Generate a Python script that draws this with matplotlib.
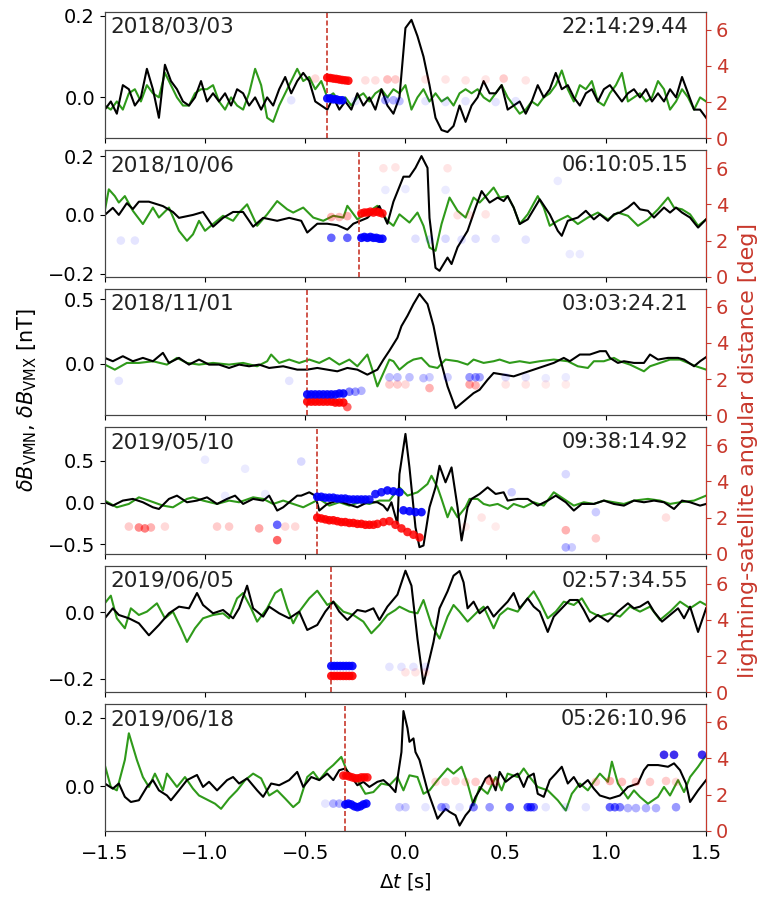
import matplotlib
matplotlib.use('Agg')
import matplotlib.pyplot as plt
import numpy as np
from matplotlib.colors import to_rgba

# ---- event labels ----
dates = ['2018/03/03', '2018/10/06', '2018/11/01', '2019/05/10', '2019/06/05', '2019/06/18']
times = ['22:14:29.44', '06:10:05.15', '03:03:24.21', '09:38:14.92', '02:57:34.55', '05:26:10.96']
t_flash = [-0.39, -0.23, -0.49, -0.44, -0.37, -0.30]
ylims = [(-0.10, 0.21), (-0.21, 0.22), (-0.40, 0.58), (-0.61, 0.90), (-0.24, 0.14), (-0.13, 0.24)]
yticks = [[0.0, 0.2], [-0.2, 0.0, 0.2], [0.0, 0.5], [-0.5, 0.0, 0.5], [-0.2, 0.0], [0.0, 0.2]]

# ---- panel 1 (sampled every 0.03 s) ----
t_1 = np.round(np.arange(-1.5, 1.5001, 0.03), 2)
b1 = [-0.03, -0.01, -0.04, 0.03, 0.02, -0.02, 0.00, 0.07, 0.02, -0.05, 0.08, 0.04, 0.02, -0.01, -0.02,
      0.00, 0.04, -0.01, 0.01, -0.01, 0.01, -0.02, 0.02, 0.01, -0.02, 0.00, -0.03, 0.00, -0.02, 0.02,
      0.05, 0.01, 0.04, 0.06, 0.04, -0.01, -0.02, -0.03, 0.00, -0.03, -0.01, -0.03, 0.01, -0.02, 0.00,
      -0.03, 0.02, -0.02, -0.04, 0.00, 0.17, 0.19, 0.15, 0.10, 0.03, -0.05, -0.08, -0.085, -0.07, -0.02,
      -0.06, -0.02, 0.00, 0.04, 0.01, 0.01, 0.03, -0.03, -0.02, -0.01, -0.04, -0.01, 0.03, 0.00, 0.02,
      0.06, 0.02, 0.03, 0.00, -0.02, 0.01, 0.02, -0.01, 0.02, 0.03, 0.01, -0.01, 0.01, 0.02, 0.00,
      0.02, -0.01, 0.01, -0.01, 0.02, 0.00, 0.05, 0.01, -0.03, -0.03, -0.05]
g1 = [-0.02, -0.03, -0.01, -0.03, 0.01, 0.02, -0.01, 0.03, 0.01, 0.00, 0.06, 0.03, 0.00, -0.02, -0.02,
      0.01, 0.02, 0.02, 0.03, -0.01, -0.03, 0.00, -0.02, -0.03, 0.01, 0.07, 0.03, -0.05, -0.06, -0.02,
      0.01, 0.04, 0.07, 0.04, 0.05, 0.02, 0.04, 0.00, 0.01, -0.01, 0.00, -0.02, 0.00, 0.01, -0.01,
      0.01, 0.02, 0.00, 0.02, 0.01, 0.03, -0.03, 0.00, 0.02, -0.01, 0.01, -0.01, 0.00, -0.02, 0.01,
      0.02, 0.01, 0.02, 0.00, -0.01, 0.01, 0.03, 0.00, -0.02, -0.04, -0.03, -0.01, -0.02, 0.00, 0.01,
      0.03, 0.066, 0.02, -0.01, 0.03, 0.02, 0.04, -0.01, -0.02, 0.01, 0.03, 0.06, -0.01, 0.00, 0.01,
      -0.01, 0.00, 0.04, 0.02, -0.03, -0.01, 0.02, 0.00, -0.03, 0.00, -0.01]

# ---- panels 2-6 : (t, dB) pairs ----
b2 = [(-1.50, 0.00), (-1.46, 0.024), (-1.43, 0.00), (-1.39, 0.04), (-1.36, 0.02), (-1.33, 0.045),
      (-1.28, 0.045), (-1.21, 0.03), (-1.16, 0.01), (-1.13, -0.01), (-1.06, 0.00), (-1.01, 0.01),
      (-0.96, -0.04), (-0.91, -0.01), (-0.86, 0.01), (-0.81, 0.01), (-0.76, -0.04), (-0.71, -0.01),
      (-0.64, -0.02), (-0.58, -0.01), (-0.52, -0.02), (-0.49, -0.06), (-0.44, -0.03), (-0.39, -0.03),
      (-0.34, -0.035), (-0.29, -0.05), (-0.26, -0.03), (-0.19, -0.01), (-0.13, 0.03), (-0.09, -0.03),
      (-0.06, 0.045), (-0.01, 0.13), (0.02, 0.13), (0.05, 0.16), (0.08, 0.20), (0.11, 0.16),
      (0.12, -0.01), (0.15, -0.18), (0.17, -0.19), (0.21, -0.145), (0.23, -0.167), (0.26, -0.11),
      (0.31, -0.054), (0.35, 0.025), (0.38, 0.081), (0.42, 0.042), (0.46, 0.059), (0.49, 0.047),
      (0.51, 0.064), (0.54, 0.025), (0.57, -0.031), (0.61, -0.015), (0.67, 0.053), (0.72, 0.002),
      (0.76, -0.054), (0.78, -0.071), (0.81, -0.020), (0.86, -0.009), (0.90, 0.014), (0.94, -0.015),
      (0.97, 0.002), (1.01, -0.020), (1.04, 0.002), (1.07, 0.008), (1.11, 0.025), (1.14, 0.042),
      (1.17, 0.019), (1.21, 0.014), (1.24, -0.009), (1.29, 0.025), (1.32, 0.008), (1.35, 0.025),
      (1.38, 0.008), (1.42, -0.009), (1.46, -0.043), (1.50, -0.015)]
g2 = [(-1.50, 0.014), (-1.48, 0.087), (-1.45, 0.064), (-1.43, 0.042), (-1.40, 0.064), (-1.36, 0.014),
      (-1.31, -0.031), (-1.26, 0.025), (-1.23, -0.009), (-1.18, 0.025), (-1.13, -0.054), (-1.09, -0.088),
      (-1.06, -0.066), (-1.03, -0.02), (-1.00, -0.054), (-0.96, -0.031), (-0.91, -0.003), (-0.86, -0.02),
      (-0.83, 0.008), (-0.79, 0.036), (-0.74, -0.037), (-0.69, 0.002), (-0.64, 0.047), (-0.59, 0.019),
      (-0.56, 0.008), (-0.51, 0.025), (-0.46, -0.009), (-0.41, -0.02), (-0.36, -0.003), (-0.31, -0.009),
      (-0.29, 0.031), (-0.24, -0.015), (-0.19, 0.008), (-0.14, 0.031), (-0.09, -0.02), (-0.06, -0.037),
      (-0.03, 0.002), (0.02, -0.026), (0.06, 0.008), (0.09, -0.037), (0.12, -0.111), (0.15, -0.122),
      (0.18, -0.031), (0.22, 0.059), (0.26, 0.014), (0.30, -0.009), (0.34, 0.059), (0.37, 0.042),
      (0.41, 0.07), (0.44, 0.093), (0.47, 0.059), (0.51, 0.064), (0.54, 0.025), (0.57, -0.031),
      (0.61, 0.002), (0.66, 0.064), (0.69, 0.025), (0.72, -0.037), (0.76, -0.02), (0.81, -0.003),
      (0.86, -0.031), (0.91, -0.009), (0.96, 0.008), (1.01, -0.015), (1.06, 0.008), (1.11, -0.003),
      (1.16, -0.037), (1.21, -0.015), (1.26, 0.019), (1.31, 0.059), (1.34, 0.025), (1.38, 0.019),
      (1.42, 0.002), (1.46, -0.037), (1.50, -0.015)]

b3 = [(-1.50, 0.044), (-1.46, 0.018), (-1.41, 0.057), (-1.36, 0.018), (-1.31, 0.044), (-1.26, 0.018),
      (-1.21, 0.083), (-1.18, 0.005), (-1.13, 0.044), (-1.08, -0.008), (-1.03, 0.031), (-0.98, -0.008),
      (-0.93, -0.008), (-0.88, -0.034), (-0.83, -0.008), (-0.78, -0.021), (-0.73, -0.008), (-0.68, -0.034),
      (-0.61, -0.021), (-0.54, -0.047), (-0.49, -0.047), (-0.44, -0.034), (-0.39, -0.047), (-0.34, -0.06),
      (-0.29, -0.034), (-0.24, -0.047), (-0.19, -0.086), (-0.14, -0.047), (-0.11, 0.03), (-0.08, 0.10),
      (-0.04, 0.20), (-0.02, 0.29), (0.01, 0.37), (0.04, 0.461), (0.07, 0.539), (0.11, 0.461),
      (0.14, 0.292), (0.17, 0.057), (0.21, -0.177), (0.25, -0.346), (0.29, -0.294), (0.34, -0.229),
      (0.37, -0.203), (0.41, -0.125), (0.44, -0.073), (0.49, -0.086), (0.54, -0.099), (0.59, -0.073),
      (0.64, -0.047), (0.69, -0.021), (0.74, 0.005), (0.79, 0.044), (0.82, 0.018), (0.87, 0.07),
      (0.92, 0.07), (0.97, 0.096), (1.00, 0.096), (1.02, 0.044), (1.06, 0.005), (1.09, 0.018),
      (1.14, 0.005), (1.19, 0.005), (1.22, 0.07), (1.26, 0.031), (1.31, 0.044), (1.36, 0.044),
      (1.39, 0.031), (1.44, -0.021), (1.47, 0.018), (1.50, 0.05)]
g3 = [(-1.50, -0.008), (-1.45, -0.047), (-1.39, 0.005), (-1.33, 0.005), (-1.26, 0.018), (-1.19, -0.008),
      (-1.14, 0.044), (-1.09, 0.005), (-1.03, -0.008), (-0.96, 0.005), (-0.88, -0.008), (-0.81, 0.005),
      (-0.74, -0.021), (-0.69, 0.018), (-0.67, 0.07), (-0.63, 0.005), (-0.58, 0.031), (-0.53, 0.005),
      (-0.48, 0.031), (-0.43, 0.005), (-0.38, 0.044), (-0.33, -0.008), (-0.28, 0.031), (-0.24, -0.021),
      (-0.19, 0.07), (-0.16, -0.073), (-0.14, -0.177), (-0.11, -0.073), (-0.08, 0.031), (-0.06, 0.018),
      (-0.03, -0.047), (0.01, 0.005), (0.04, 0.031), (0.08, 0.044), (0.12, -0.021), (0.16, -0.034),
      (0.20, 0.031), (0.26, 0.018), (0.31, -0.008), (0.34, 0.031), (0.39, 0.005), (0.44, 0.018),
      (0.47, 0.031), (0.52, 0.005), (0.57, 0.018), (0.62, 0.005), (0.67, 0.018), (0.74, 0.031),
      (0.81, 0.018), (0.86, -0.021), (0.91, -0.034), (0.94, 0.018), (0.99, 0.018), (1.04, 0.044),
      (1.07, 0.018), (1.12, -0.008), (1.19, -0.06), (1.22, -0.021), (1.27, 0.005), (1.32, 0.031),
      (1.37, 0.031), (1.41, 0.005), (1.45, -0.021), (1.50, -0.047)]

b4 = [(-1.50, 0.004), (-1.46, -0.036), (-1.41, 0.024), (-1.36, 0.044), (-1.31, 0.004), (-1.26, -0.056),
      (-1.23, -0.076), (-1.18, 0.044), (-1.14, 0.083), (-1.09, 0.004), (-1.04, 0.024), (-0.99, 0.063),
      (-0.94, -0.016), (-0.89, 0.044), (-0.85, 0.083), (-0.81, -0.016), (-0.76, 0.044), (-0.71, 0.024),
      (-0.68, 0.083), (-0.64, -0.095), (-0.61, -0.056), (-0.58, 0.004), (-0.54, 0.083), (-0.52, 0.083),
      (-0.48, 0.123), (-0.45, 0.083), (-0.43, -0.095), (-0.39, -0.016), (-0.34, 0.024), (-0.29, -0.016),
      (-0.24, -0.056), (-0.19, 0.004), (-0.14, 0.004), (-0.11, -0.036), (-0.09, -0.095), (-0.07, 0.004),
      (-0.04, -0.254), (-0.03, 0.34), (0.00, 0.82), (0.02, 0.42), (0.05, -0.294), (0.07, -0.532),
      (0.09, -0.512), (0.12, -0.056), (0.15, 0.182), (0.17, 0.44), (0.20, 0.242), (0.23, 0.42),
      (0.26, -0.056), (0.28, -0.452), (0.31, -0.056), (0.33, 0.044), (0.37, 0.103), (0.41, 0.182),
      (0.45, 0.103), (0.49, 0.123), (0.51, 0.024), (0.56, 0.044), (0.61, 0.044), (0.66, -0.036),
      (0.71, 0.024), (0.75, 0.083), (0.80, 0.004), (0.84, -0.095), (0.88, -0.016), (0.94, -0.016),
      (0.99, 0.024), (1.04, -0.016), (1.09, -0.036), (1.14, 0.024), (1.19, 0.004), (1.24, 0.024),
      (1.29, 0.004), (1.34, -0.076), (1.38, 0.024), (1.42, 0.004), (1.47, -0.036), (1.50, -0.016)]
g4 = [(-1.50, 0.024), (-1.44, -0.056), (-1.38, -0.016), (-1.33, 0.063), (-1.28, 0.024), (-1.21, -0.036),
      (-1.16, -0.056), (-1.09, 0.044), (-1.06, 0.063), (-1.01, 0.024), (-0.94, -0.016), (-0.88, 0.024),
      (-0.83, 0.004), (-0.76, 0.063), (-0.71, 0.044), (-0.66, -0.016), (-0.61, 0.024), (-0.56, -0.016),
      (-0.51, -0.056), (-0.46, 0.004), (-0.43, 0.044), (-0.38, -0.036), (-0.33, 0.004), (-0.28, -0.036),
      (-0.23, 0.004), (-0.18, -0.016), (-0.13, 0.024), (-0.08, 0.024), (-0.03, 0.182), (0.01, 0.083),
      (0.06, 0.123), (0.11, 0.222), (0.13, 0.32), (0.16, 0.182), (0.18, 0.044), (0.21, -0.175),
      (0.23, -0.056), (0.26, -0.175), (0.30, -0.056), (0.32, 0.044), (0.36, 0.044), (0.39, -0.016),
      (0.42, -0.036), (0.46, -0.016), (0.51, -0.076), (0.54, -0.016), (0.59, -0.056), (0.64, 0.004),
      (0.69, -0.036), (0.74, 0.123), (0.79, 0.044), (0.84, -0.036), (0.89, 0.004), (0.94, -0.016),
      (0.99, 0.024), (1.04, 0.004), (1.09, -0.016), (1.14, 0.024), (1.21, 0.044), (1.27, 0.024),
      (1.32, -0.016), (1.37, 0.004), (1.44, 0.024), (1.50, 0.083)]

b5 = [(-1.50, -0.018), (-1.46, 0.012), (-1.43, -0.008), (-1.38, -0.018), (-1.33, -0.033), (-1.28, -0.069),
      (-1.23, -0.038), (-1.18, -0.003), (-1.13, 0.017), (-1.08, 0.012), (-1.04, 0.058), (-1.01, 0.022),
      (-0.96, -0.003), (-0.91, 0.007), (-0.86, -0.018), (-0.83, 0.012), (-0.79, 0.08), (-0.76, 0.012),
      (-0.71, -0.013), (-0.68, 0.017), (-0.63, -0.003), (-0.58, -0.018), (-0.53, 0.002), (-0.49, -0.053),
      (-0.44, -0.038), (-0.40, 0.002), (-0.36, 0.032), (-0.33, 0.002), (-0.29, -0.023), (-0.24, 0.007),
      (-0.20, 0.002), (-0.16, 0.012), (-0.13, -0.023), (-0.09, 0.017), (-0.04, 0.053), (0.00, 0.125),
      (0.03, 0.08), (0.06, -0.08), (0.09, -0.215), (0.12, -0.14), (0.14, -0.089), (0.17, 0.012),
      (0.21, 0.063), (0.24, 0.11), (0.27, 0.124), (0.29, 0.09), (0.31, 0.012), (0.34, 0.032),
      (0.37, -0.003), (0.41, 0.017), (0.44, -0.013), (0.47, 0.007), (0.51, 0.032), (0.54, 0.058),
      (0.57, 0.012), (0.61, 0.042), (0.64, 0.017), (0.67, 0.002), (0.71, -0.059), (0.74, -0.013),
      (0.78, 0.012), (0.82, 0.037), (0.86, 0.037), (0.89, 0.007), (0.92, -0.028), (0.96, -0.008),
      (1.01, -0.028), (1.06, 0.002), (1.11, 0.027), (1.14, 0.012), (1.17, 0.017), (1.21, 0.032),
      (1.24, 0.002), (1.28, -0.028), (1.32, -0.008), (1.36, 0.012), (1.39, -0.018), (1.42, 0.017),
      (1.46, -0.059), (1.50, 0.012)]
g5 = [(-1.50, 0.027), (-1.47, 0.05), (-1.44, -0.018), (-1.40, -0.048), (-1.37, 0.012), (-1.33, -0.008),
      (-1.29, 0.002), (-1.24, 0.027), (-1.20, -0.018), (-1.16, 0.002), (-1.12, -0.048), (-1.09, -0.089),
      (-1.05, -0.048), (-1.01, -0.018), (-0.96, -0.008), (-0.91, -0.003), (-0.88, -0.018), (-0.84, 0.042),
      (-0.81, 0.058), (-0.77, 0.012), (-0.74, -0.028), (-0.69, 0.012), (-0.65, 0.058), (-0.62, 0.07),
      (-0.59, 0.012), (-0.56, -0.033), (-0.53, 0.002), (-0.48, 0.042), (-0.44, 0.065), (-0.39, 0.022),
      (-0.36, 0.032), (-0.31, 0.002), (-0.26, -0.008), (-0.21, -0.028), (-0.17, -0.063), (-0.13, -0.038),
      (-0.09, -0.008), (-0.05, 0.007), (-0.03, 0.017), (0.02, 0.002), (0.06, -0.003), (0.09, 0.037),
      (0.13, -0.038), (0.17, -0.079), (0.21, -0.013), (0.24, 0.022), (0.27, 0.002), (0.31, -0.028),
      (0.36, 0.002), (0.39, 0.017), (0.44, -0.048), (0.47, -0.008), (0.51, 0.012), (0.56, 0.002),
      (0.61, 0.042), (0.64, 0.063), (0.67, 0.032), (0.71, -0.018), (0.75, 0.002), (0.79, 0.032),
      (0.84, 0.022), (0.88, 0.042), (0.92, 0.002), (0.97, -0.013), (1.02, -0.003), (1.07, -0.013),
      (1.12, 0.017), (1.17, 0.002), (1.22, 0.017), (1.27, -0.023), (1.32, 0.002), (1.37, 0.032),
      (1.42, 0.012), (1.47, 0.032), (1.50, 0.022)]

b6 = [(-1.50, 0.008), (-1.46, -0.007), (-1.43, 0.008), (-1.40, -0.031), (-1.37, -0.046), (-1.33, -0.041),
      (-1.29, -0.002), (-1.26, 0.018), (-1.23, -0.012), (-1.19, -0.027), (-1.17, -0.041), (-1.13, -0.012),
      (-1.09, 0.018), (-1.04, 0.033), (-1.01, -0.002), (-0.98, 0.013), (-0.94, -0.012), (-0.89, 0.018),
      (-0.86, 0.027), (-0.83, 0.008), (-0.79, 0.023), (-0.74, -0.012), (-0.71, -0.031), (-0.67, 0.008),
      (-0.63, 0.003), (-0.58, 0.018), (-0.54, 0.042), (-0.51, -0.002), (-0.47, 0.027), (-0.43, 0.018),
      (-0.39, 0.037), (-0.36, 0.018), (-0.33, 0.047), (-0.30, 0.052), (-0.28, 0.037), (-0.24, 0.003),
      (-0.21, 0.013), (-0.18, -0.002), (-0.14, 0.013), (-0.11, 0.018), (-0.08, 0.003), (-0.05, -0.017),
      (-0.02, 0.10), (-0.01, 0.22), (0.01, 0.17), (0.02, 0.13), (0.04, 0.14), (0.05, 0.10),
      (0.07, 0.077), (0.11, -0.012), (0.14, -0.061), (0.16, -0.095), (0.20, -0.066), (0.22, -0.075),
      (0.25, -0.085), (0.27, -0.115), (0.30, -0.085), (0.32, -0.071), (0.35, -0.031), (0.37, -0.012),
      (0.40, 0.023), (0.42, 0.032), (0.45, -0.012), (0.47, 0.042), (0.50, 0.013), (0.53, 0.027),
      (0.56, 0.037), (0.59, -0.002), (0.61, 0.027), (0.64, 0.037), (0.66, -0.022), (0.69, -0.031),
      (0.72, 0.018), (0.75, 0.037), (0.78, 0.057), (0.81, 0.008), (0.84, 0.027), (0.87, -0.002),
      (0.91, 0.018), (0.94, -0.007), (0.97, -0.027), (1.02, -0.036), (1.07, -0.027), (1.11, -0.002),
      (1.16, 0.008), (1.19, 0.047), (1.21, 0.062), (1.26, 0.062), (1.31, 0.057), (1.34, 0.067),
      (1.37, 0.047), (1.40, 0.008), (1.42, -0.046), (1.46, -0.012), (1.50, 0.018)]
g6 = [(-1.50, 0.062), (-1.47, -0.002), (-1.44, -0.012), (-1.40, 0.077), (-1.38, 0.155), (-1.34, 0.077),
      (-1.31, 0.027), (-1.28, -0.002), (-1.25, 0.037), (-1.21, -0.012), (-1.19, 0.037), (-1.14, -0.002),
      (-1.10, 0.027), (-1.06, -0.007), (-1.03, -0.027), (-1.00, -0.036), (-0.95, -0.051), (-0.92, -0.066),
      (-0.88, -0.036), (-0.84, -0.012), (-0.80, 0.018), (-0.76, 0.037), (-0.72, 0.023), (-0.68, -0.027),
      (-0.64, -0.012), (-0.60, -0.036), (-0.56, -0.061), (-0.53, -0.046), (-0.49, 0.027), (-0.46, 0.042),
      (-0.43, 0.018), (-0.39, 0.047), (-0.36, 0.062), (-0.32, 0.086), (-0.29, 0.042), (-0.24, 0.018),
      (-0.20, -0.022), (-0.16, -0.017), (-0.12, 0.008), (-0.08, 0.003), (-0.04, 0.027), (-0.01, -0.012),
      (0.02, 0.032), (0.06, 0.027), (0.09, -0.022), (0.12, -0.012), (0.16, 0.018), (0.21, 0.052),
      (0.24, 0.037), (0.28, 0.057), (0.31, 0.008), (0.34, -0.056), (0.37, -0.002), (0.41, -0.022),
      (0.45, 0.027), (0.48, -0.012), (0.51, 0.037), (0.56, 0.027), (0.59, 0.052), (0.62, 0.027),
      (0.66, -0.002), (0.71, -0.012), (0.76, -0.041), (0.80, -0.071), (0.83, -0.022), (0.87, 0.008),
      (0.91, -0.012), (0.94, 0.013), (0.97, 0.037), (1.01, 0.013), (1.03, 0.072), (1.06, 0.008),
      (1.11, -0.036), (1.14, -0.012), (1.17, -0.031), (1.21, -0.051), (1.26, -0.031), (1.29, -0.002),
      (1.32, -0.027), (1.36, 0.018), (1.39, -0.017), (1.42, 0.027), (1.46, 0.057), (1.50, 0.091)]

# ---- lightning-satellite angular distance: (t, deg, alpha) ----
red1 = [(-0.39, 3.35, .9), (-0.375, 3.33, .9), (-0.36, 3.3, .9), (-0.345, 3.28, .9), (-0.33, 3.25, .9),
        (-0.315, 3.22, .9), (-0.30, 3.2, .9), (-0.285, 3.18, .9), (-0.45, 3.3, .15), (-0.2, 3.2, .12),
        (-0.15, 3.2, .12), (-0.09, 3.25, .25), (-0.05, 3.25, .2), (0.1, 3.25, .1), (0.2, 3.25, .1),
        (0.3, 3.2, .1), (0.4, 3.25, .1), (0.49, 3.3, .2), (0.6, 3.2, .1)]
blue1 = [(-0.39, 2.2, .9), (-0.375, 2.2, .9), (-0.36, 2.15, .9), (-0.345, 2.15, .9), (-0.33, 2.1, .9),
         (-0.315, 2.1, .9), (-0.57, 2.1, .1), (-0.25, 2.05, .1), (-0.1, 2.1, .35), (-0.06, 2.1, .3),
         (-0.03, 2.05, .25), (0.1, 2.05, .1), (0.2, 2.0, .1), (0.3, 2.05, .1), (0.45, 2.0, .1), (0.55, 2.05, .1)]

red2 = [(-0.22, 3.5, .85), (-0.205, 3.55, .85), (-0.19, 3.55, .85), (-0.175, 3.6, .85), (-0.16, 3.55, .85),
        (-0.145, 3.6, .85), (-0.13, 3.55, .85), (-0.115, 3.5, .85), (-0.37, 3.3, .3), (-0.33, 3.3, .25),
        (-0.29, 3.35, .3), (-0.11, 6.0, .1), (-0.05, 6.05, .1), (0.21, 6.0, .1), (0.26, 3.4, .12),
        (0.32, 3.4, .1), (0.4, 3.45, .1)]
blue2 = [(-0.22, 2.15, .9), (-0.205, 2.2, .9), (-0.19, 2.15, .9), (-0.175, 2.2, .9), (-0.16, 2.15, .9),
         (-0.145, 2.15, .9), (-0.13, 2.1, .9), (-0.115, 2.1, .9), (-0.37, 2.15, .6), (-0.29, 2.15, .6),
         (-1.42, 2.0, .1), (-1.35, 2.0, .1), (0.05, 2.1, .12), (0.12, 2.05, .12), (0.2, 2.1, .15),
         (0.28, 2.05, .12), (0.35, 2.1, .12), (0.45, 2.1, .1), (0.6, 2.05, .1), (-0.1, 4.8, .08),
         (0.0, 4.85, .08), (0.2, 4.8, .08), (0.76, 5.3, .08), (0.82, 1.25, .08), (0.87, 1.25, .08)]

red3 = [(-0.49, 0.75, .9), (-0.47, 0.75, .9), (-0.45, 0.75, .9), (-0.43, 0.75, .9), (-0.41, 0.75, .9),
        (-0.39, 0.75, .9), (-0.37, 0.75, .9), (-0.35, 0.7, .9), (-0.33, 0.7, .9), (-0.31, 0.7, .9),
        (-0.29, 0.45, .6), (-0.08, 1.7, .2), (-0.04, 1.7, .2), (0.0, 1.7, .15), (0.12, 1.5, .3),
        (0.32, 1.7, .35), (0.35, 1.65, .3), (0.5, 1.7, .1), (0.6, 1.7, .1), (0.7, 1.7, .08), (0.8, 1.7, .08)]
blue3 = [(-0.49, 1.15, .9), (-0.47, 1.15, .9), (-0.45, 1.15, .9), (-0.43, 1.15, .9), (-0.41, 1.15, .9),
         (-0.39, 1.15, .9), (-0.37, 1.15, .9), (-0.35, 1.15, .9), (-0.33, 1.2, .9), (-0.31, 1.2, .9),
         (-0.28, 1.3, .5), (-0.25, 1.3, .4), (-0.22, 1.35, .3), (-1.43, 1.9, .1), (-0.58, 1.9, .1),
         (-0.08, 2.1, .25), (-0.04, 2.1, .25), (0.02, 2.1, .25), (0.09, 2.05, .25), (0.12, 2.1, .2),
         (0.21, 2.1, .2), (0.32, 2.1, .4), (0.35, 2.1, .4), (0.37, 2.1, .35), (0.5, 2.1, .12),
         (0.6, 2.1, .1), (0.7, 2.05, .08), (0.8, 2.1, .08)]

red4 = [(-0.44, 2.0, .9), (-0.42, 1.95, .9), (-0.40, 1.9, .9), (-0.38, 1.85, .9), (-0.36, 1.85, .9),
        (-0.34, 1.8, .9), (-0.32, 1.75, .9), (-0.30, 1.75, .9), (-0.28, 1.7, .9), (-0.26, 1.7, .9),
        (-0.24, 1.65, .9), (-0.22, 1.65, .9), (-0.20, 1.6, .9), (-0.18, 1.6, .9), (-0.16, 1.6, .85),
        (-0.14, 1.65, .85), (-0.11, 1.75, .85), (-0.08, 1.8, .85), (-0.05, 1.6, .85), (-0.02, 1.4, .85),
        (0.01, 1.2, .85), (0.04, 1.05, .85), (0.07, 0.9, .85), (-1.38, 1.5, .2), (-1.33, 1.45, .45),
        (-1.30, 1.4, .5), (-1.27, 1.45, .3), (-1.2, 1.5, .15), (-0.94, 1.5, .2), (-0.88, 1.5, .2),
        (-0.73, 1.4, .35), (-0.64, 0.75, .6), (-0.6, 1.5, .15), (-0.55, 1.5, .15), (0.38, 2.0, .1),
        (0.8, 1.3, .3), (0.95, 0.85, .2), (1.3, 2.0, .12), (0.3, 1.5, .08), (0.45, 1.5, .08)]
blue4 = [(-0.44, 3.15, .9), (-0.42, 3.15, .9), (-0.40, 3.1, .9), (-0.38, 3.1, .9), (-0.36, 3.1, .9),
         (-0.34, 3.05, .9), (-0.32, 3.05, .9), (-0.30, 3.05, .9), (-0.28, 3.0, .9), (-0.26, 3.0, .9),
         (-0.24, 3.0, .9), (-0.22, 3.0, .9), (-0.20, 3.0, .9), (-0.18, 3.0, .85), (-0.15, 3.3, .85),
         (-0.12, 3.4, .85), (-0.09, 3.5, .9), (-0.06, 3.45, .9), (-0.03, 3.4, .9), (-0.01, 2.4, .9),
         (0.02, 2.35, .9), (0.05, 2.3, .9), (0.08, 2.3, .9), (-0.64, 1.6, .6), (-0.52, 5.1, .15),
         (-1.0, 5.2, .08), (-0.8, 4.7, .08), (-0.9, 3.2, .08), (-0.7, 3.3, .08), (0.53, 3.4, .2),
         (0.8, 4.4, .15), (0.8, 0.35, .3), (0.83, 0.35, .2), (0.95, 2.3, .2)]

red5 = [(-0.37, 0.9, .9), (-0.355, 0.9, .9), (-0.34, 0.9, .9), (-0.325, 0.9, .9), (-0.31, 0.9, .9),
        (-0.295, 0.9, .9), (-0.28, 0.9, .9), (-0.265, 0.9, .9), (0.0, 1.1, .1), (0.05, 1.1, .1), (0.1, 1.1, .1)]
blue5 = [(-0.37, 1.45, .9), (-0.355, 1.45, .9), (-0.34, 1.45, .9), (-0.325, 1.45, .9), (-0.31, 1.45, .9),
         (-0.295, 1.45, .9), (-0.28, 1.45, .9), (-0.265, 1.45, .9), (-0.08, 1.4, .1), (-0.02, 1.4, .1),
         (0.04, 1.4, .1), (0.1, 1.4, .1)]

red6 = [(-0.31, 3.05, .85), (-0.295, 3.05, .85), (-0.28, 3.0, .85), (-0.265, 2.95, .85), (-0.25, 2.9, .85),
        (-0.235, 2.9, .85), (-0.22, 2.95, .85), (-0.205, 2.95, .85), (-0.19, 2.95, .85), (0.15, 2.7, .15),
        (0.2, 2.7, .15), (0.25, 2.75, .15), (0.3, 2.7, .15), (0.35, 2.7, .2), (0.42, 2.75, .35),
        (0.45, 2.7, .2), (0.95, 2.7, .2), (1.02, 2.75, .3), (1.08, 2.7, .25), (1.15, 2.7, .2),
        (1.22, 2.7, .2), (1.3, 2.75, .2), (1.35, 2.7, .15), (1.29, 4.2, .25), (1.34, 4.2, .25), (1.48, 4.2, .25)]
blue6 = [(-0.30, 1.45, .9), (-0.285, 1.5, .9), (-0.27, 1.45, .9), (-0.255, 1.35, .9), (-0.24, 1.3, .9),
         (-0.225, 1.35, .9), (-0.21, 1.45, .9), (-0.195, 1.5, .9), (-0.36, 1.5, .3), (-0.33, 1.5, .3),
         (-0.40, 1.5, .1), (-0.03, 1.3, .2), (0.0, 1.3, .2), (0.1, 1.3, .1), (0.18, 1.3, .4), (0.2, 1.3, .3),
         (0.27, 1.3, .1), (0.34, 1.3, .5), (0.42, 1.3, .4), (0.52, 1.3, .6), (0.61, 1.3, .7), (0.625, 1.3, .7),
         (0.64, 1.3, .6), (0.7, 1.3, .1), (0.8, 1.3, .1), (0.9, 1.3, .1), (1.02, 1.3, .6), (1.045, 1.3, .6),
         (1.07, 1.3, .5), (1.11, 1.25, .3), (1.15, 1.25, .3), (1.2, 1.25, .3), (1.25, 1.25, .3),
         (1.35, 1.3, .4), (1.29, 4.2, .75), (1.34, 4.2, .75), (1.48, 4.2, .75)]

curves = [(np.column_stack([t_1, b1]), np.column_stack([t_1, g1])),
          (np.array(b2), np.array(g2)), (np.array(b3), np.array(g3)),
          (np.array(b4), np.array(g4)), (np.array(b5), np.array(g5)), (np.array(b6), np.array(g6))]
reds = [red1, red2, red3, red4, red5, red6]
blues = [blue1, blue2, blue3, blue4, blue5, blue6]

RED = '#c8382c'
GREEN = '#2f9a1a'
fs = 14

fig, axes = plt.subplots(6, 1, figsize=(7.65, 9), dpi=100, sharex=True)
fig.subplots_adjust(left=0.137, right=0.923, top=0.987, bottom=0.077, hspace=0.095)

for i, ax in enumerate(axes):
    blk, grn = curves[i]
    ax.plot(grn[:, 0], grn[:, 1], color=GREEN, lw=1.5)
    ax.plot(blk[:, 0], blk[:, 1], color='black', lw=1.5)
    ax.axvline(t_flash[i], color=RED, ls='--', lw=1.2, dashes=(3, 1.5))
    ax.set_xlim(-1.5, 1.5)
    ax.set_ylim(*ylims[i])
    ax.set_yticks(yticks[i])
    ax.tick_params(labelsize=fs)
    ax.tick_params(axis='x', pad=6)
    for s in ['left', 'top', 'bottom']:
        ax.spines[s].set_color('#444444')
    ax.text(0.01, 0.96, dates[i], transform=ax.transAxes, ha='left', va='top', fontsize=15.5, color='#222222')
    ax.text(0.97, 0.96, times[i], transform=ax.transAxes, ha='right', va='top', fontsize=15, color='#222222')

    ax2 = ax.twinx()
    for pts, col in [(reds[i], 'red'), (blues[i], 'blue')]:
        arr = np.array(pts)
        cols = [to_rgba(col, a) for a in arr[:, 2]]
        ax2.scatter(arr[:, 0], arr[:, 1], c=cols, s=38, edgecolors='none')
    ax2.set_ylim(0, 7)
    ax2.set_yticks([0, 2, 4, 6])
    ax2.tick_params(axis='y', colors=RED, labelsize=fs)
    ax2.spines['right'].set_color(RED)
    ax2.spines['left'].set_color('#444444')
    ax2.spines['top'].set_color('#444444')
    ax2.spines['bottom'].set_color('#444444')

axes[-1].set_xticks([-1.5, -1.0, -0.5, 0.0, 0.5, 1.0, 1.5])
axes[-1].set_xlabel(r'$\Delta t$ [s]', fontsize=fs, labelpad=6)

fig.text(0.035, 0.556, r'$\delta B_{\rm VMN}$, $\delta B_{\rm VMX}$ [nT]', rotation=90,
         ha='center', va='center', fontsize=15)
fig.text(0.978, 0.5, 'lightning-satellite angular distance [deg]', rotation=90,
         ha='center', va='center', fontsize=16, color=RED)

fig.savefig('out.png', dpi=100)
